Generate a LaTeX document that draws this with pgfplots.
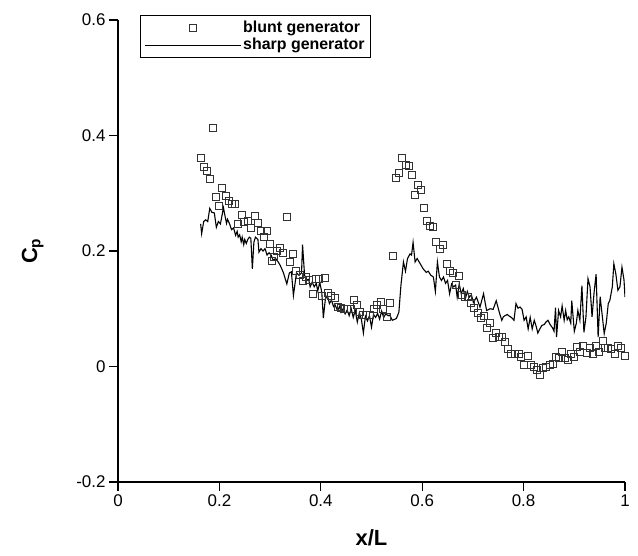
\documentclass[border=0pt]{standalone}
\usepackage{pgfplots}
\pgfplotsset{compat=1.18}
\usepackage{fontspec}
\setmainfont{Liberation Sans}
\begin{document}
\begin{tikzpicture}
\useasboundingbox (-118bp,-74bp) rectangle (520bp,482bp);
\begin{axis}[
  scale only axis, width=507bp, height=462bp,
  xmin=0, xmax=1, ymin=-0.2, ymax=0.6,
  axis x line*=bottom, axis y line*=left,
  axis line style={line width=1.2bp},
  xtick={0,0.2,0.4,0.6,0.8,1}, ytick={-0.2,0,0.2,0.4,0.6},
  xticklabels={0,0.2,0.4,0.6,0.8,1},
  yticklabels={-0.2,0,0.2,0.4,0.6},
  tick align=outside, major tick length=9bp,
  tick style={line width=1.2bp, black},
  ticklabel style={font=\fontsize{17}{20}\selectfont},
  /pgf/number format/assume math mode=true,
  xlabel={\textbf{x/L}}, ylabel={\textbf{C\textsubscript{p}}},
  label style={font=\fontsize{22}{26}\selectfont\bfseries},
  xlabel style={yshift=-16bp},
  ylabel style={yshift=26bp},
  legend style={at={(rel axis cs:0.043,1.011)}, anchor=north west,
    draw=black, line width=1bp, font=\fontsize{16}{18}\selectfont\bfseries,
    inner xsep=4bp, inner ysep=4bp, row sep=0bp, cells={anchor=west}},
  legend cell align=left,
]
\addplot[only marks, mark=square, mark size=3.5bp, mark options={draw=black!80, line width=0.9bp},
  legend image code/.code={\draw[mark options={draw=black!80, line width=0.9bp}] plot coordinates {(48bp,0cm)};}]
coordinates {
(0.163,0.362)(0.169,0.346)(0.175,0.338)(0.181,0.324)(0.188,0.413)(0.194,0.293)
(0.200,0.278)(0.206,0.310)(0.213,0.296)(0.219,0.287)(0.225,0.281)(0.231,0.281)
(0.237,0.246)(0.244,0.262)(0.249,0.251)(0.256,0.252)(0.262,0.240)(0.270,0.261)
(0.276,0.248)(0.281,0.234)(0.287,0.225)(0.294,0.234)(0.300,0.212)(0.304,0.183)
(0.308,0.190)(0.313,0.200)(0.320,0.206)(0.325,0.197)(0.333,0.259)(0.339,0.181)
(0.345,0.195)(0.351,0.166)(0.358,0.158)(0.364,0.148)(0.370,0.155)(0.377,0.150)
(0.384,0.126)(0.391,0.151)(0.396,0.151)(0.402,0.122)(0.409,0.154)(0.414,0.127)
(0.420,0.122)(0.427,0.119)(0.433,0.103)(0.439,0.102)(0.446,0.100)(0.452,0.100)
(0.459,0.100)(0.465,0.115)(0.471,0.106)(0.477,0.094)(0.484,0.089)(0.490,0.089)
(0.497,0.089)(0.505,0.100)(0.510,0.106)(0.518,0.111)(0.523,0.100)(0.531,0.085)
(0.536,0.110)(0.542,0.192)(0.548,0.326)(0.554,0.335)(0.561,0.361)(0.568,0.349)
(0.574,0.348)(0.579,0.332)(0.586,0.297)(0.591,0.315)(0.597,0.306)(0.604,0.274)
(0.609,0.252)(0.615,0.244)(0.622,0.241)(0.628,0.215)(0.635,0.204)(0.641,0.211)
(0.648,0.177)(0.654,0.166)(0.660,0.162)(0.666,0.142)(0.672,0.156)(0.678,0.124)
(0.684,0.120)(0.691,0.121)(0.696,0.110)(0.703,0.102)(0.709,0.093)(0.715,0.084)
(0.721,0.088)(0.728,0.067)(0.734,0.075)(0.740,0.050)(0.746,0.058)(0.752,0.051)
(0.758,0.051)(0.763,0.042)(0.770,0.030)(0.776,0.021)(0.783,0.022)(0.790,0.022)
(0.795,0.017)(0.801,0.003)(0.808,0.018)(0.814,0.003)(0.820,0.000)(0.826,-0.006)
(0.832,-0.015)(0.838,-0.002)(0.845,-0.001)(0.851,0.002)(0.857,0.005)(0.863,0.016)
(0.869,0.014)(0.876,0.025)(0.882,0.015)(0.888,0.012)(0.894,0.021)(0.900,0.016)
(0.906,0.033)(0.911,0.025)(0.918,0.035)(0.924,0.024)(0.931,0.032)(0.937,0.021)
(0.943,0.035)(0.949,0.025)(0.956,0.044)(0.961,0.032)(0.967,0.032)(0.973,0.030)
(0.980,0.022)(0.986,0.036)(0.992,0.032)(0.999,0.019)
};
\addlegendentry{blunt generator}
\addplot[black, line width=1.1bp, no marks,
  legend image code/.code={\draw[black, line width=0.9bp] (0bp,0bp) -- (96bp,0bp);}]
coordinates {
(0.163,0.247)(0.165,0.230)(0.169,0.251)(0.173,0.254)(0.177,0.251)(0.181,0.274)
(0.185,0.267)(0.190,0.266)(0.194,0.241)(0.198,0.251)(0.202,0.247)(0.204,0.256)
(0.208,0.275)(0.211,0.261)(0.214,0.248)(0.216,0.255)(0.220,0.247)(0.224,0.237)
(0.228,0.240)(0.232,0.227)(0.235,0.234)(0.237,0.224)(0.240,0.228)(0.243,0.216)
(0.245,0.224)(0.248,0.211)(0.250,0.220)(0.253,0.213)(0.256,0.220)(0.259,0.224)
(0.262,0.222)(0.265,0.169)(0.268,0.215)(0.271,0.224)(0.276,0.220)(0.278,0.198)
(0.282,0.204)(0.286,0.200)(0.290,0.204)(0.294,0.193)(0.298,0.197)(0.302,0.193)
(0.306,0.184)(0.311,0.187)(0.316,0.181)(0.320,0.175)(0.326,0.163)(0.333,0.143)
(0.338,0.162)(0.342,0.164)(0.346,0.123)(0.352,0.162)(0.357,0.158)(0.362,0.162)
(0.364,0.211)(0.368,0.158)(0.372,0.150)(0.376,0.151)(0.379,0.138)(0.383,0.146)
(0.387,0.138)(0.391,0.144)(0.394,0.131)(0.398,0.146)(0.402,0.128)(0.405,0.084)
(0.409,0.117)(0.413,0.123)(0.417,0.109)(0.421,0.115)(0.425,0.104)(0.428,0.107)
(0.433,0.097)(0.437,0.104)(0.440,0.094)(0.444,0.100)(0.448,0.091)(0.452,0.098)
(0.456,0.088)(0.460,0.100)(0.464,0.085)(0.468,0.097)(0.472,0.077)(0.476,0.093)
(0.480,0.082)(0.484,0.058)(0.488,0.087)(0.492,0.079)(0.496,0.088)(0.500,0.068)
(0.504,0.090)(0.508,0.085)(0.512,0.092)(0.516,0.082)(0.520,0.096)(0.524,0.085)
(0.528,0.091)(0.533,0.088)(0.536,0.089)(0.541,0.080)(0.549,0.083)(0.554,0.094)
(0.558,0.140)(0.563,0.181)(0.567,0.165)(0.571,0.187)(0.576,0.195)(0.579,0.193)
(0.582,0.215)(0.586,0.181)(0.590,0.187)(0.596,0.178)(0.602,0.169)(0.608,0.163)
(0.612,0.165)(0.617,0.158)(0.622,0.155)(0.626,0.130)(0.630,0.181)(0.634,0.155)
(0.638,0.149)(0.642,0.155)(0.646,0.144)(0.650,0.149)(0.654,0.126)(0.658,0.143)
(0.662,0.138)(0.666,0.141)(0.669,0.120)(0.673,0.143)(0.677,0.126)(0.681,0.135)
(0.685,0.117)(0.689,0.130)(0.693,0.120)(0.697,0.124)(0.701,0.111)(0.707,0.120)
(0.714,0.103)(0.721,0.126)(0.727,0.097)(0.734,0.100)(0.740,0.099)(0.746,0.114)
(0.752,0.094)(0.757,0.080)(0.760,0.086)(0.763,0.088)(0.768,0.090)(0.772,0.087)
(0.776,0.085)(0.781,0.080)(0.785,0.109)(0.789,0.101)(0.793,0.103)(0.797,0.099)
(0.801,0.080)(0.805,0.086)(0.809,0.065)(0.813,0.085)(0.817,0.065)(0.821,0.080)
(0.825,0.069)(0.828,0.058)(0.832,0.065)(0.836,0.071)(0.841,0.073)(0.844,0.077)
(0.848,0.080)(0.852,0.073)(0.857,0.067)(0.860,0.061)(0.863,0.102)(0.865,0.051)
(0.869,0.097)(0.873,0.086)(0.876,0.105)(0.880,0.080)(0.883,0.097)(0.886,0.081)
(0.889,0.086)(0.893,0.075)(0.895,0.114)(0.900,0.061)(0.904,0.075)(0.907,0.097)
(0.911,0.080)(0.915,0.140)(0.919,0.059)(0.923,0.086)(0.927,0.152)(0.931,0.138)
(0.935,0.086)(0.939,0.128)(0.943,0.160)(0.947,0.051)(0.951,0.121)(0.954,0.097)
(0.959,0.057)(0.963,0.075)(0.967,0.109)(0.970,0.114)(0.975,0.138)(0.978,0.178)
(0.982,0.160)(0.986,0.132)(0.990,0.138)(0.994,0.172)(0.998,0.150)(1.000,0.120)
};
\addlegendentry{sharp generator}
\end{axis}
\end{tikzpicture}
\end{document}
